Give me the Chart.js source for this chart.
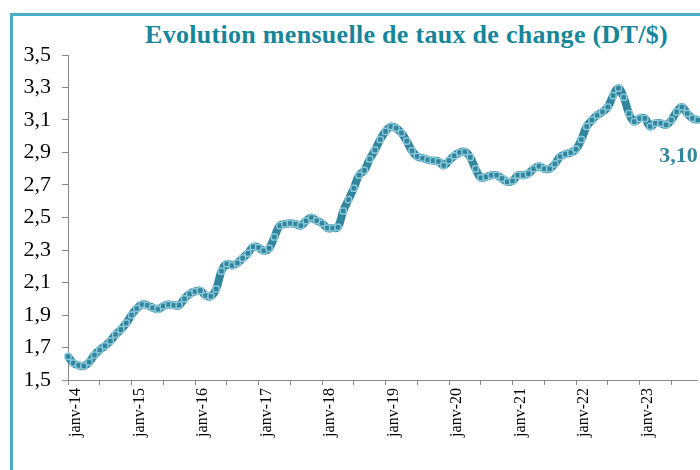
<!DOCTYPE html>
<html>
<head>
<meta charset="utf-8">
<script src="https://cdn.jsdelivr.net/npm/chart.js@4"></script>
<style>
  html, body { margin: 0; padding: 0; background: #fff; overflow: hidden; width: 700px; height: 470px; }
  #frame { position: absolute; left: 10px; top: 13px; width: 800px; height: 600px; border: 3px solid #4bacc6; }
  #title { position: absolute; left: 145px; top: 20px; font: bold 26px "Liberation Serif"; color: #17869a; white-space: nowrap; }
  #chart1 { position: absolute; left: 0; top: 0; }
</style>
</head>
<body>
<div id="frame"></div>
<div id="title">Evolution mensuelle de taux de change (DT/$)</div>
<canvas id="chart1" width="720" height="470"></canvas>
<script>
// monthly DT/$ rate, one array per year
var y2014 = [1.645, 1.605, 1.59, 1.586, 1.61, 1.654, 1.685, 1.71, 1.74, 1.78, 1.81, 1.85];
var y2015 = [1.90, 1.94, 1.965, 1.96, 1.945, 1.935, 1.955, 1.965, 1.96, 1.96, 2.00, 2.03];
var y2016 = [2.045, 2.05, 2.02, 2.015, 2.06, 2.17, 2.215, 2.205, 2.22, 2.25, 2.28, 2.32];
var y2017 = [2.315, 2.295, 2.31, 2.38, 2.45, 2.46, 2.465, 2.46, 2.45, 2.48, 2.50, 2.48];
var y2018 = [2.465, 2.435, 2.435, 2.44, 2.54, 2.61, 2.68, 2.76, 2.79, 2.86, 2.915, 2.98];
var y2019 = [3.03, 3.06, 3.05, 3.02, 2.97, 2.91, 2.875, 2.865, 2.855, 2.85, 2.845, 2.82];
var y2020 = [2.85, 2.88, 2.90, 2.905, 2.87, 2.80, 2.745, 2.75, 2.76, 2.76, 2.74, 2.72];
var y2021 = [2.725, 2.76, 2.76, 2.77, 2.80, 2.815, 2.80, 2.80, 2.83, 2.875, 2.89, 2.90];
var y2022 = [2.92, 2.98, 3.06, 3.10, 3.13, 3.15, 3.18, 3.25, 3.295, 3.24, 3.14, 3.09];
var y2023 = [3.11, 3.11, 3.06, 3.08, 3.08, 3.07, 3.10, 3.15, 3.18, 3.14, 3.11, 3.10];

var years = ['14', '15', '16', '17', '18', '19', '20', '21', '22', '23'];
var months = ['janv', 'févr', 'mars', 'avr', 'mai', 'juin', 'juil', 'août', 'sept', 'oct', 'nov', 'déc'];
var yTicks = [1.5, 1.7, 1.9, 2.1, 2.3, 2.5, 2.7, 2.9, 3.1, 3.3, 3.5];

// build category labels and the series
var labels = [];
years.forEach(function (y) {
  months.forEach(function (m) { labels.push(m + '-' + y); });
});
var values = [].concat(y2014, y2015, y2016, y2017, y2018, y2019, y2020, y2021, y2022, y2023);

// squeeze title to the reference width
var title = document.getElementById('title');
var tw = title.getBoundingClientRect().width;
title.style.letterSpacing = ((523 - tw) / 44) + 'px';

// label under the last point
var lastLabel = {
  id: 'lastLabel',
  afterDatasetsDraw: function (chart) {
    var meta = chart.getDatasetMeta(0);
    var pt = meta.data[meta.data.length - 1];
    var ctx = chart.ctx;
    ctx.save();
    ctx.font = 'bold 22px "Liberation Serif"';
    ctx.fillStyle = '#31859c';
    ctx.textAlign = 'right';
    ctx.textBaseline = 'middle';
    ctx.fillText(values[values.length - 1].toFixed(2).replace('.', ','), pt.x, pt.y + 36);
    ctx.restore();
  }
};

var ctx1 = document.getElementById('chart1');
new Chart(ctx1, {
  type: 'line',
  data: {
    labels: labels,
    datasets: [{
      data: values,
      borderColor: '#31859c',
      borderWidth: 8,
      tension: 0.4,
      pointStyle: 'rectRounded',
      pointRadius: 3.5,
      pointBackgroundColor: '#31859c',
      pointBorderColor: '#8ac8da',
      pointBorderWidth: 1.5
    }]
  },
  options: {
    responsive: false,
    animation: false,
    devicePixelRatio: 1,
    layout: { padding: { top: 55, right: 15, left: 0, bottom: 0 } },
    plugins: { legend: { display: false }, tooltip: { enabled: false } },
    scales: {
      x: {
        type: 'category',
        offset: false,
        afterFit: function (s) { s.height = 90; },
        border: { color: '#888' },
        grid: {
          drawOnChartArea: false,
          tickLength: 5,
          color: function (c) { return c.index % 6 === 0 ? '#888' : 'rgba(0,0,0,0)'; }
        },
        ticks: {
          autoSkip: false,
          minRotation: 90,
          maxRotation: 90,
          padding: 3,
          labelOffset: 8,
          color: '#000',
          font: { family: 'Liberation Serif', size: 16 },
          callback: function (v, i) { return i % 12 === 0 ? labels[i] : ''; }
        }
      },
      y: {
        min: 1.5,
        max: 3.5,
        afterFit: function (s) { s.width = 68; },
        afterBuildTicks: function (s) { s.ticks = yTicks.map(function (v) { return { value: v }; }); },
        border: { color: '#888' },
        grid: { drawOnChartArea: false, tickLength: 6, color: '#888' },
        ticks: {
          padding: 11,
          color: '#000',
          font: { family: 'Liberation Serif', size: 22 },
          callback: function (v) { return v.toFixed(1).replace('.', ','); }
        }
      }
    }
  },
  plugins: [lastLabel]
});
</script>
</body>
</html>
